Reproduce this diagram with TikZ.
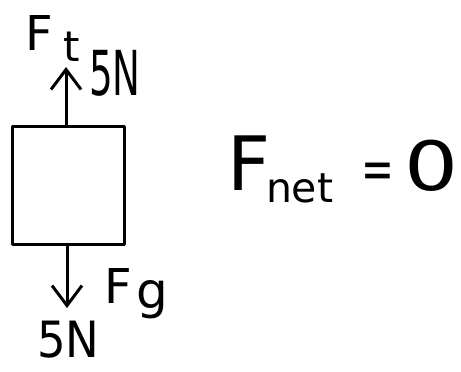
\documentclass[tikz,border=0pt]{standalone}
\usepackage{fontspec}
\setmainfont{DejaVu Sans}
\usetikzlibrary{arrows.meta}
\newcommand{\fs}[1]{\fontsize{#1}{#1}\selectfont}
\begin{document}
\begin{tikzpicture}[x=1pt,y=-1pt,
  ink/.style={line width=3pt, line cap=round, line join=round},
  force/.style={ink, -{Straight Barb[length=20pt,width=30pt,line width=3pt]}},
  lbl/.style={inner sep=0pt, outer sep=0pt, anchor=base west}]
\useasboundingbox (0,0) rectangle (461,372);
\fill[white] (0,0) rectangle (461,372);
% body
\node[draw, ink, minimum width=112pt, minimum height=118pt, inner sep=0pt] (box) at (68.5,185) {};
% forces
\coordinate (ttip) at (66,67);
\coordinate (btip) at (67,308);
\draw[force] (box.north -| ttip) -- (ttip);
\draw[force] (box.south -| btip) -- (btip);
% labels
\node[lbl] (ft) at (25,50) {\fs{48}F};
\node[lbl] (fts) at (63,61) {\fs{42}t};
\node[lbl] (tn) at (89,95) {\fs{62}\scalebox{0.6}[1]{5N}};
\node[lbl] (fg) at (104,303) {\fs{48}F};
\node[lbl] (fgs) at (136,308) {\fs{50}g};
\node[lbl] (bn) at (37,357) {\fs{50}\scalebox{0.9}[1]{5N}};
% equation
\node[lbl] (fn) at (227,190) {\fs{75}F};
\node[lbl] (fns) at (266,202) {\fs{41}net};
\node[lbl] (eq) at (361,188) {\fs{56}\scalebox{0.7}[1]{=}};
\node[lbl] (zero) at (404,190) {\fs{68}\scalebox{1.25}[1]{0}};
\end{tikzpicture}
\end{document}
